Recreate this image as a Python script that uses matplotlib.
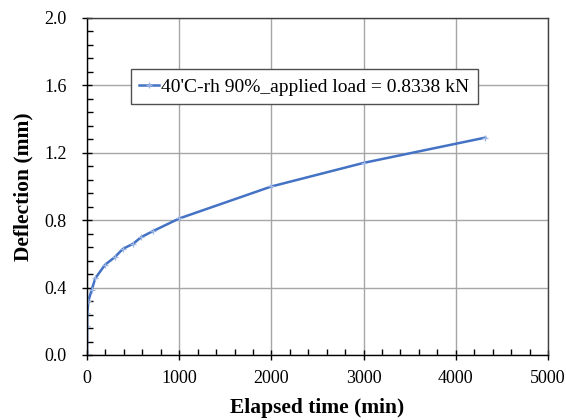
import numpy as np
import matplotlib.pyplot as plt
from matplotlib.ticker import MultipleLocator

# elapsed time (min) and deflection (mm)
time = [0, 1, 3, 15, 50, 90, 195, 300, 390, 500, 590, 715, 1000, 2000, 3000, 4320]
defl = [0.0, 0.17, 0.25, 0.32, 0.385, 0.455, 0.535, 0.58, 0.63, 0.66, 0.70, 0.735, 0.81, 1.0, 1.14, 1.29]
label = "40'C-rh 90%_applied load = 0.8338 kN"

plt.rcParams['font.family'] = ['Liberation Serif', 'DejaVu Serif']

fig = plt.figure(figsize=(5.66, 4.2), dpi=100)
ax = fig.add_axes([0.1537, 0.1548, 0.8145, 0.8024])

ax.plot(time, defl, color='#4472C4', lw=1.8, marker='+', ms=5,
        mec='#9DB5E3', mew=0.9, label=label)

ax.set_xlim(0, 5000)
ax.set_ylim(0, 2.0)
ax.xaxis.set_major_locator(MultipleLocator(1000))
ax.xaxis.set_minor_locator(MultipleLocator(200))
ax.yaxis.set_major_locator(MultipleLocator(0.4))
ax.yaxis.set_minor_locator(MultipleLocator(0.08))
ax.yaxis.set_major_formatter(plt.FuncFormatter(lambda v, p: f'{v:.1f}'))

ax.grid(True, which='major', color='#A6A6A6', lw=1.0)
ax.set_axisbelow(True)
ax.tick_params(which='major', direction='inout', length=7, width=1, labelsize=13, color='black')
ax.tick_params(which='minor', direction='in', length=4, width=1, color='black')
ax.tick_params(axis='x', which='major', pad=7)
ax.tick_params(axis='y', which='major', pad=11)
for s in ax.spines.values():
    s.set_color('#404040')
    s.set_linewidth(1.0)
ax.spines['left'].set_color('black')
ax.spines['bottom'].set_color('black')

ax.set_xlabel('Elapsed time (min)', fontsize=15.5, fontweight='bold', labelpad=8)
ax.set_ylabel('Deflection (mm)', fontsize=15.5, fontweight='bold', labelpad=8)

leg = ax.legend(loc='upper center', bbox_to_anchor=(0.471, 0.848), fontsize=14,
                fancybox=False, framealpha=1, edgecolor='#505050',
                handlelength=1.0, handletextpad=0.1, borderpad=0.45, borderaxespad=0)
leg.get_frame().set_linewidth(1.0)

fig.savefig('out.png', dpi=100)
